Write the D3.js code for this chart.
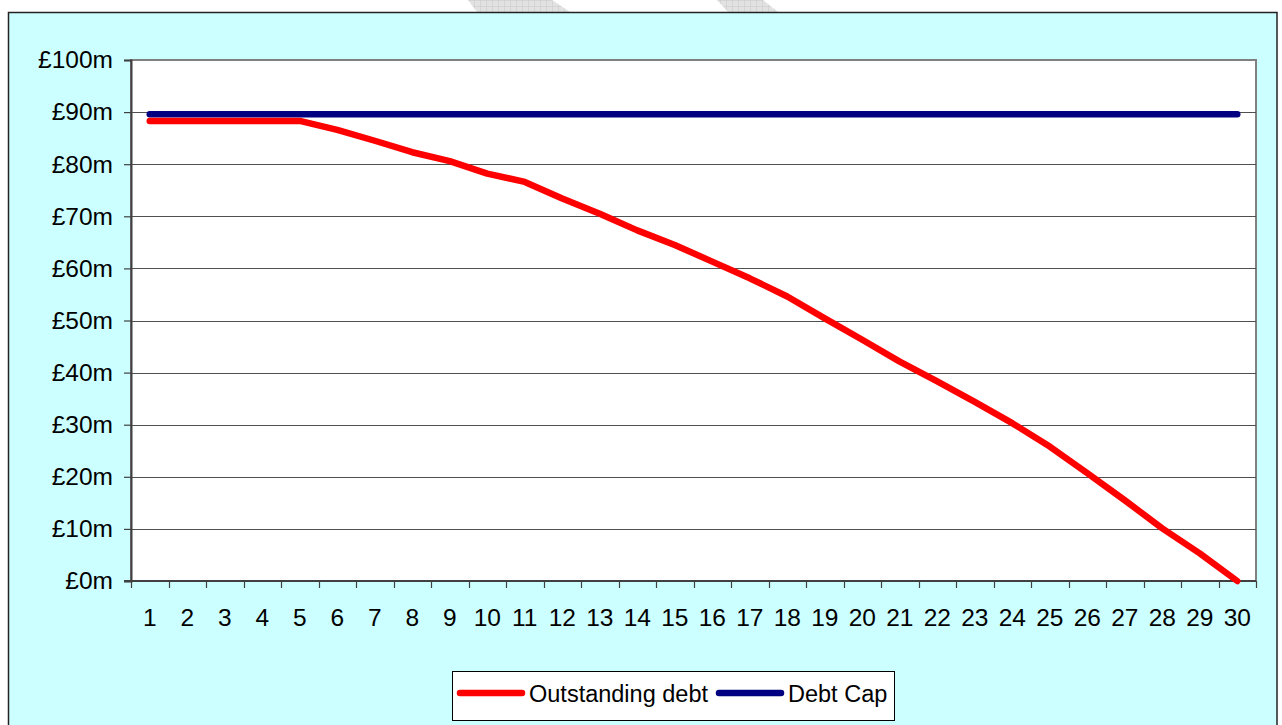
<!DOCTYPE html>
<html>
<head>
<meta charset="utf-8">
<script src="https://cdn.jsdelivr.net/npm/d3@7"></script>
<style>
  html, body { margin: 0; padding: 0; background: #ffffff; }
  svg { display: block; font-family: "Liberation Sans", Arial, sans-serif; }
</style>
</head>
<body>
<svg id="chart" width="1282" height="725"></svg>
<script>
// ---- data ----
const categories = d3.range(1, 31).map(String);
const outstandingDebt = [88.3, 88.3, 88.3, 88.3, 88.3, 86.6, 84.5, 82.3, 80.6, 78.2,
                         76.6, 73.4, 70.5, 67.3, 64.5, 61.3, 58.1, 54.6, 50.4, 46.3,
                         42.1, 38.3, 34.4, 30.3, 25.8, 20.7, 15.5, 10.1, 5.3, 0.0];
const debtCap = categories.map(() => 89.6);
const yTicks = [0, 10, 20, 30, 40, 50, 60, 70, 80, 90, 100];
const seriesNames = ["Outstanding debt", "Debt Cap"];
const seriesColors = ["#FF0000", "#000080"];

// ---- layout ----
const W = 1282, H = 725;
const plot = { left: 131, top: 60, right: 1256, bottom: 581 };
const axisFont = 24.5;
const svg = d3.select("#chart");

// page background
svg.append("rect").attr("x", 0).attr("y", 0).attr("width", W).attr("height", H).attr("fill", "#ffffff");

// faint page watermark fragments above the chart
const defs = svg.append("defs");
const pat = defs.append("pattern").attr("id", "hatch").attr("patternUnits", "userSpaceOnUse")
  .attr("width", 6).attr("height", 6);
pat.append("rect").attr("width", 6).attr("height", 6).attr("fill", "#e2e2e2");
pat.append("path").attr("d", "M0,0H6M0,0V6").attr("stroke", "#c8c8c8").attr("stroke-width", 1);
svg.append("polygon").attr("points", "468,0 552,0 570,12 477,12").attr("fill", "url(#hatch)");
svg.append("polygon").attr("points", "717,0 763,0 778,12 728,12").attr("fill", "url(#hatch)");

// chart area
svg.append("rect").attr("x", 8.5).attr("y", 12.5).attr("width", 1268.5).attr("height", 730)
  .attr("fill", "#CCFFFF").attr("stroke", "#222").attr("stroke-width", 1.5);

const x = d3.scaleBand().domain(categories).range([plot.left, plot.right]).padding(0);
const y = d3.scaleLinear().domain([0, 100]).range([plot.bottom, plot.top]);

// plot area
svg.append("rect").attr("x", plot.left).attr("y", plot.top)
  .attr("width", plot.right - plot.left).attr("height", plot.bottom - plot.top)
  .attr("fill", "#ffffff").attr("stroke", "#808080").attr("stroke-width", 2);

// gridlines
svg.append("g").selectAll("line").data(yTicks.filter(d => d > 0 && d < 100)).join("line")
  .attr("x1", plot.left).attr("x2", plot.right)
  .attr("y1", d => Math.round(y(d)) + 0.5).attr("y2", d => Math.round(y(d)) + 0.5)
  .attr("stroke", "#505050").attr("stroke-width", 1);

// y axis
const yAxis = d3.axisLeft(y).tickValues(yTicks).tickFormat(d => "£" + d + "m")
  .tickSize(7).tickPadding(11);
const gy = svg.append("g").attr("transform", `translate(${plot.left},0)`).call(yAxis);
gy.select(".domain").attr("stroke", "#404040").attr("stroke-width", 2);
gy.selectAll(".tick line").attr("stroke", "#404040").attr("stroke-width", 1.2);
gy.selectAll(".tick text").attr("font-size", axisFont).attr("fill", "#000")
  .attr("font-family", "'Liberation Sans', Arial, sans-serif");

// x axis (labels centred, ticks at category boundaries)
const xAxis = d3.axisBottom(x).tickSize(0).tickPadding(27.5);
const gx = svg.append("g").attr("transform", `translate(0,${plot.bottom})`).call(xAxis);
gx.select(".domain").remove();
gx.selectAll(".tick text").attr("font-size", axisFont).attr("fill", "#000")
  .attr("font-family", "'Liberation Sans', Arial, sans-serif");
const boundaries = categories.map(c => x(c)).concat([x(categories[categories.length - 1]) + x.bandwidth()]);
svg.append("line").attr("x1", plot.left - 7).attr("x2", plot.right)
  .attr("y1", plot.bottom).attr("y2", plot.bottom).attr("stroke", "#404040").attr("stroke-width", 2);
svg.append("g").selectAll("line").data(boundaries).join("line")
  .attr("x1", d => Math.round(d) + 0.5).attr("x2", d => Math.round(d) + 0.5)
  .attr("y1", plot.bottom).attr("y2", plot.bottom + 7)
  .attr("stroke", "#404040").attr("stroke-width", 1.2);

// lines
const line = d3.line().x((d, i) => x(categories[i]) + x.bandwidth() / 2).y(d => y(d));
[debtCap, outstandingDebt].forEach((s, k) => {
  const col = k === 0 ? seriesColors[1] : seriesColors[0];
  svg.append("path").datum(s).attr("d", line)
    .attr("fill", "none").attr("stroke", col).attr("stroke-width", 6.5)
    .attr("stroke-linejoin", "round").attr("stroke-linecap", "round");
});

// legend
const lg = svg.append("g");
lg.append("rect").attr("x", 452.5).attr("y", 671.5).attr("width", 442).attr("height", 49)
  .attr("fill", "#ffffff").attr("stroke", "#000").attr("stroke-width", 1);
const legendItems = [
  { name: seriesNames[0], color: seriesColors[0], x0: 460 },
  { name: seriesNames[1], color: seriesColors[1], x0: 719 }
];
legendItems.forEach(it => {
  lg.append("line").attr("x1", it.x0).attr("x2", it.x0 + 62).attr("y1", 693).attr("y2", 693)
    .attr("stroke", it.color).attr("stroke-width", 6.5).attr("stroke-linecap", "round");
  lg.append("text").attr("x", it.x0 + 69).attr("y", 702).attr("font-size", 23.5).attr("fill", "#000")
    .text(it.name);
});
</script>
</body>
</html>
